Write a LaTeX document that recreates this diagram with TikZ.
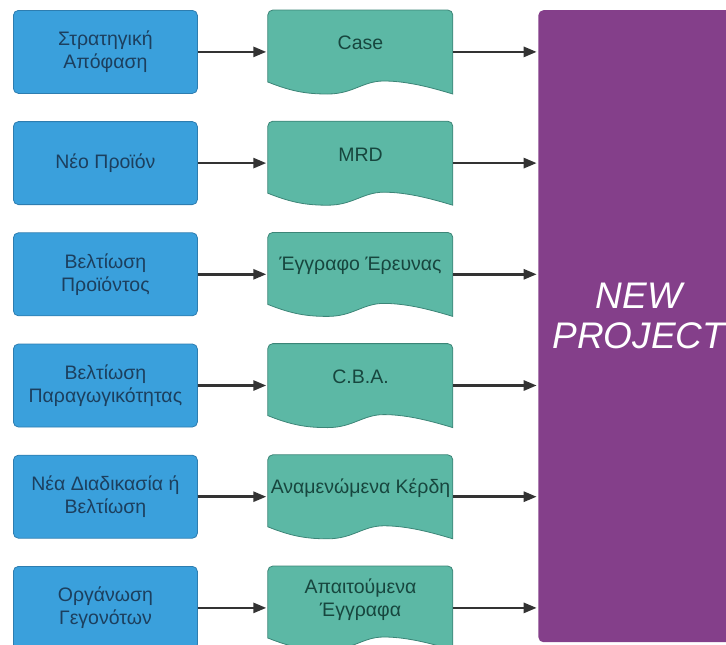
\documentclass[tikz,border=0pt]{standalone}
\usepackage{fontspec}
\setmainfont{Liberation Sans}
\usepackage{tikz}
\usetikzlibrary{arrows.meta,positioning,calc,backgrounds}
\definecolor{causeB}{HTML}{3AA0DC}
\definecolor{causeL}{HTML}{2D7DB0}
\definecolor{causeT}{HTML}{1C3F5E}
\definecolor{docG}{HTML}{5CB8A5}
\definecolor{docL}{HTML}{3C8577}
\definecolor{docT}{HTML}{17463E}
\definecolor{projP}{HTML}{843F8A}
\definecolor{arrowK}{HTML}{333333}

% document outline under a text node
\newcommand{\docshape}[1]{%
  \begin{scope}[on background layer,shift={(#1.north west)}]
    \filldraw[fill=docG,draw=docL,line width=0.8pt]
      (0,-72) -- (0,-5) arc[start angle=180,end angle=90,radius=5pt]
      -- (180,0) arc[start angle=90,end angle=0,radius=5pt]
      -- (185,-84)
      .. controls (165,-78) and (140,-71) .. (116,-71)
      .. controls (95,-71) and (85,-84) .. (60,-84)
      .. controls (40,-84) and (25,-82) .. (0,-72) -- cycle;
  \end{scope}}

\begin{document}
\begin{tikzpicture}[
  x=1pt,y=1pt,
  font=\fontsize{19.5}{23}\selectfont,
  node distance=27.4pt,
  every node/.style={align=center},
  cause/.style={rounded corners=5pt,draw=causeL,line width=0.8pt,fill=causeB,
               text=causeT,inner sep=2pt,minimum width=184pt,minimum height=83pt},
  docbox/.style={anchor=north west,text=docT,inner sep=1pt,
               minimum width=185pt,minimum height=66pt},
  project/.style={anchor=north west,rounded corners=5pt,fill=projP,text=white,
               minimum width=201pt,minimum height=632pt,text depth=20pt,
               font=\fontsize{37}{40}\selectfont\itshape},
  arr/.style={-{Triangle[length=13pt,width=10pt]},line width=2.6pt,arrowK,
              shorten >=1.5pt}
]
\useasboundingbox (0,0) rectangle (726,-645);

% LEFT: causes
\node[cause,anchor=north west] (b1) at (13,-10) {Στρατηγική\\Απόφαση};
\node[cause] (b2) [below=of b1] {Νέο Προϊόν};
\node[cause] (b3) [below=of b2] {Βελτίωση\\Προϊόντος};
\node[cause] (b4) [below=of b3] {Βελτίωση\\Παραγωγικότητας};
\node[cause] (b5) [below=of b4] {Νέα Διαδικασία ή\\Βελτίωση};
\node[cause] (b6) [below=of b5] {Οργάνωση\\Γεγονότων};

% MIDDLE: documents
\node[docbox] (d1) at ([xshift=70pt]b1.north east) {Case};
\node[docbox] (d2) at ([xshift=70pt]b2.north east) {MRD};
\node[docbox] (d3) at ([xshift=70pt]b3.north east) {Έγγραφο Έρευνας};
\node[docbox] (d4) at ([xshift=70pt]b4.north east) {C.B.A.};
\node[docbox] (d5) at ([xshift=70pt]b5.north east) {Αναμενώμενα Κέρδη};
\node[docbox] (d6) at ([xshift=70pt]b6.north east) {Απαιτούμενα\\Έγγραφα};

\docshape{d1}
\docshape{d2}
\docshape{d3}
\docshape{d4}
\docshape{d5}
\docshape{d6}

% RIGHT: project
\node[project] (np) at ([xshift=85pt]d1.north east) {NEW\\PROJECT};

\draw[arr] (b1.east) -- (b1.east -| d1.west);
\draw[arr] (b2.east) -- (b2.east -| d2.west);
\draw[arr] (b3.east) -- (b3.east -| d3.west);
\draw[arr] (b4.east) -- (b4.east -| d4.west);
\draw[arr] (b5.east) -- (b5.east -| d5.west);
\draw[arr] (b6.east) -- (b6.east -| d6.west);

\draw[arr] (b1.east -| d1.east) -- (b1.east -| np.west);
\draw[arr] (b2.east -| d2.east) -- (b2.east -| np.west);
\draw[arr] (b3.east -| d3.east) -- (b3.east -| np.west);
\draw[arr] (b4.east -| d4.east) -- (b4.east -| np.west);
\draw[arr] (b5.east -| d5.east) -- (b5.east -| np.west);
\draw[arr] (b6.east -| d6.east) -- (b6.east -| np.west);
\end{tikzpicture}
\end{document}
